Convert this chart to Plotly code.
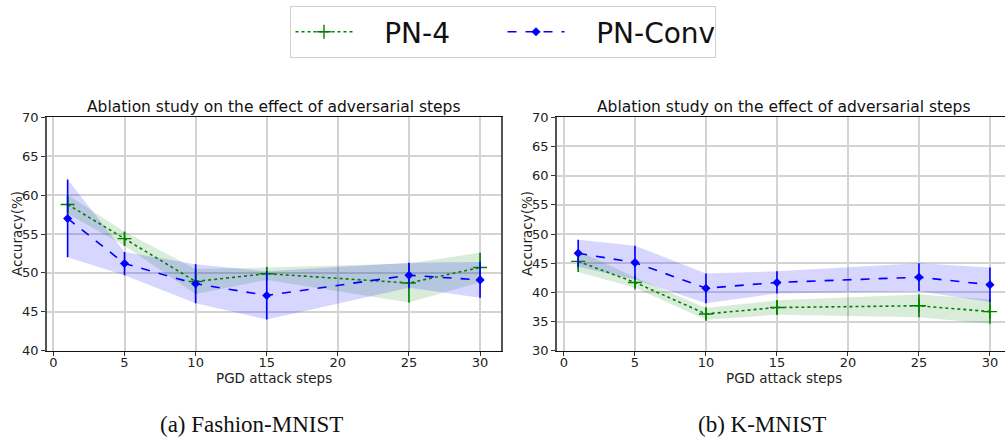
import plotly.graph_objects as go

steps = [1, 5, 10, 15, 25, 30]

# Fashion-MNIST
fm_pn4_mean = [58.8, 54.4, 48.9, 49.9, 48.7, 50.7]
fm_pn4_std = [1.2, 0.9, 1.6, 0.8, 2.5, 1.9]
fm_conv_mean = [57.0, 51.2, 48.6, 47.1, 49.7, 49.1]
fm_conv_std = [5.0, 1.5, 2.5, 3.1, 1.6, 2.3]

# K-MNIST
km_pn4_mean = [45.3, 41.7, 36.3, 37.4, 37.7, 36.7]
km_pn4_std = [1.8, 0.9, 1.0, 1.25, 1.95, 2.1]
km_conv_mean = [46.7, 45.1, 40.7, 41.7, 42.6, 41.3]
km_conv_std = [2.3, 2.9, 2.55, 1.9, 2.4, 2.95]

xticks = [0, 5, 10, 15, 20, 25, 30]

panels = [
    ("x", "y", fm_pn4_mean, fm_pn4_std, fm_conv_mean, fm_conv_std),
    ("x2", "y2", km_pn4_mean, km_pn4_std, km_conv_mean, km_conv_std),
]

GREEN = "green"
BLUE = "blue"
NB = "\u00a0"

fig = go.Figure()

for i, (xa, ya, g_m, g_s, b_m, b_s) in enumerate(panels):
    for m, s, col in [(g_m, g_s, "rgba(0,128,0,0.15)"), (b_m, b_s, "rgba(0,0,255,0.16)")]:
        up = [a + b for a, b in zip(m, s)]
        lo = [a - b for a, b in zip(m, s)]
        fig.add_trace(go.Scatter(
            x=steps + steps[::-1], y=up + lo[::-1], fill="toself",
            fillcolor=col, line=dict(width=0), mode="lines",
            hoverinfo="skip", showlegend=False, xaxis=xa, yaxis=ya))
    fig.add_trace(go.Scatter(
        x=steps, y=g_m, mode="lines+markers", name=NB * 3 + "PN-4",
        line=dict(color=GREEN, width=1.6, dash="dot"),
        marker=dict(symbol="cross-thin", size=10, line=dict(color=GREEN, width=1.4)),
        error_y=dict(type="data", array=g_s, visible=True, color=GREEN, thickness=1.6, width=0),
        showlegend=(i == 0), xaxis=xa, yaxis=ya))
    fig.add_trace(go.Scatter(
        x=steps, y=b_m, mode="lines+markers", name=NB * 3 + "PN-Conv",
        line=dict(color=BLUE, width=1.6, dash="dash"),
        marker=dict(symbol="diamond", size=7, color=BLUE),
        error_y=dict(type="data", array=b_s, visible=True, color=BLUE, thickness=1.6, width=0),
        showlegend=(i == 0), xaxis=xa, yaxis=ya))

W, H = 1005, 437
ydom = [1 - 350.7 / H, 1 - 117.3 / H]
tickfont = dict(family="DejaVu Sans", size=13, color="#222")
labfont = dict(family="DejaVu Sans", size=13.5, color="#222")

xcommon = dict(
    tickmode="array", tickvals=xticks,
    showgrid=True, gridcolor="#d3d3d3", gridwidth=1.5,
    showline=True, linecolor="#111", linewidth=1.2, mirror=True,
    ticks="", tickfont=tickfont,
    minor=dict(tickmode="array", tickvals=xticks, ticks="outside", ticklen=4,
               tickcolor="#333", tickwidth=1, showgrid=False),
    zeroline=False, automargin=False,
)
ycommon = dict(
    showgrid=True, gridcolor="#d3d3d3", gridwidth=1.5,
    showline=True, linecolor="#555", linewidth=1.6,
    ticks="outside", ticklen=4, tickcolor="#333", tickfont=tickfont,
    zeroline=False, dtick=5, automargin=False,
)

xdom1 = [47 / W, 500.7 / W]
xdom2 = [557 / W, 1.0]

fig.update_layout(
    width=W, height=H,
    margin=dict(l=0, r=0, t=0, b=0, autoexpand=False),
    paper_bgcolor="white", plot_bgcolor="white",
    xaxis=dict(xcommon, domain=xdom1, range=[-0.45, 31.45], anchor="y"),
    yaxis=dict(ycommon, domain=ydom, range=[40, 70], anchor="x", mirror=True),
    xaxis2=dict(xcommon, domain=xdom2, range=[-0.49, 31.06], anchor="y2"),
    yaxis2=dict(ycommon, domain=ydom, range=[30, 70], anchor="x2"),
    legend=dict(
        orientation="h", x=0.5, xanchor="center", y=1 - 6 / H, yanchor="top",
        font=dict(family="DejaVu Sans", size=28, color="#111"),
        bordercolor="#d0d0d0", borderwidth=1, bgcolor="white",
        itemwidth=57, entrywidth=140, entrywidthmode="pixels",
    ),
    showlegend=True,
)

title_text = "Ablation study on the effect of adversarial steps"
centers = [(47 + 500.7) / 2 / W, (557 + 1010.6) / 2 / W]
for xc in centers:
    fig.add_annotation(text=title_text, x=xc, y=1 - 107 / H, xref="paper", yref="paper",
                       showarrow=False, font=dict(family="DejaVu Sans", size=15.5, color="#111"),
                       xanchor="center", yanchor="middle")
    fig.add_annotation(text="PGD attack steps", x=xc, y=1 - 378 / H, xref="paper", yref="paper",
                       showarrow=False, font=labfont, xanchor="center", yanchor="middle")

for xpx in [17, 527]:
    fig.add_annotation(text="Accuracy(%)", x=xpx / W, y=1 - 234 / H, xref="paper", yref="paper",
                       showarrow=False, font=labfont, textangle=-90,
                       xanchor="center", yanchor="middle")

for txt, xc in [("(a) Fashion-MNIST", 252 / W), ("(b) K-MNIST", 762 / W)]:
    fig.add_annotation(text=txt, x=xc, y=1 - 424 / H, xref="paper", yref="paper",
                       showarrow=False, font=dict(family="Liberation Serif", size=23, color="#111"),
                       xanchor="center", yanchor="middle")

fig.write_html("out.html")
